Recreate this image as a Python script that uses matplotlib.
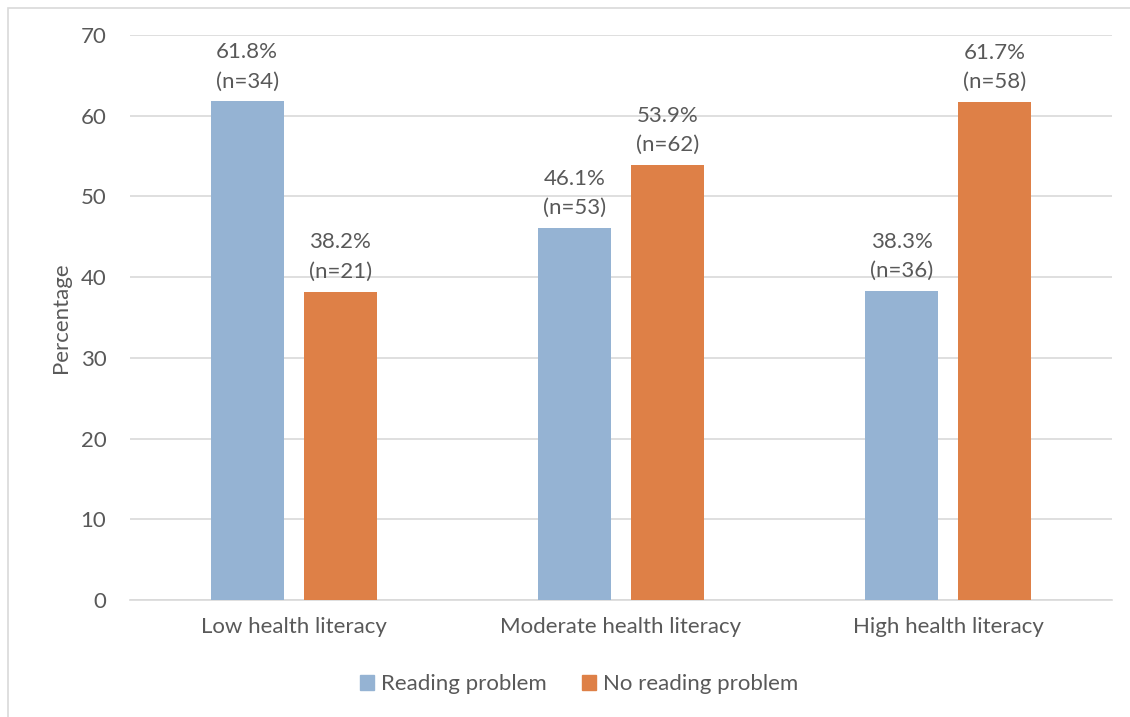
import numpy as np
import matplotlib.pyplot as plt
from matplotlib.patches import Rectangle, Patch

categorias = ['Low health literacy', 'Moderate health literacy', 'High health literacy']
com_problema = [61.8, 46.1, 38.3]
sem_problema = [38.2, 53.9, 61.7]
n_com = [34, 53, 36]
n_sem = [21, 62, 58]

azul = '#95B3D3'
laranja = '#DE8047'
cinza = '#595959'
fs = 16

plt.rcParams['font.family'] = ['Lato', 'DejaVu Sans']

fig = plt.figure(figsize=(11.3, 7.17), dpi=100)
ax = fig.add_axes([130/1130, 1 - 600/717, 982/1130, 565/717])

# moldura clara em volta do grafico
fig.patches.append(Rectangle((8/1130, -0.01), 1.0, 1 - 8/717 + 0.01, transform=fig.transFigure,
                             fill=False, edgecolor='#D9D9D9', linewidth=1.2))

pos = np.arange(len(categorias))
larg = 0.223
desl = 0.142
b1 = ax.bar(pos - desl, com_problema, larg, color=azul, zorder=3)
b2 = ax.bar(pos + desl, sem_problema, larg, color=laranja, zorder=3)

for barras, vals, ns in ((b1, com_problema, n_com), (b2, sem_problema, n_sem)):
    for b, v, n in zip(barras, vals, ns):
        ax.annotate('%.1f%%\n(n=%d)' % (v, n), (b.get_x() + b.get_width()/2, v),
                    xytext=(0, 7), textcoords='offset points', ha='center', va='bottom',
                    fontsize=fs, color=cinza, linespacing=1.6)

ax.set_xlim(-0.5, 2.5)
ax.set_ylim(0, 70)
ax.set_yticks(range(0, 71, 10))
ax.set_xticks(pos)
ax.set_xticklabels(categorias)
ax.yaxis.grid(True, color='#D9D9D9', linewidth=1.2, zorder=0)
ax.tick_params(length=0, labelsize=fs, labelcolor=cinza)
ax.tick_params(axis='x', pad=12)
ax.tick_params(axis='y', pad=17)
for s in ['top', 'right', 'left']:
    ax.spines[s].set_visible(False)
ax.spines['bottom'].set_color('#D9D9D9')
ax.spines['bottom'].set_linewidth(1.2)
ax.set_ylabel('Percentage', fontsize=fs, color=cinza, labelpad=7)

fig.legend(handles=[Patch(color=azul, label='Reading problem'),
                    Patch(color=laranja, label='No reading problem')],
           loc='center', bbox_to_anchor=(579/1130, 1 - 684/717), ncol=2, frameon=False,
           fontsize=fs, labelcolor=cinza, handlelength=0.65, handleheight=0.65,
           handletextpad=0.3, columnspacing=1.6)

plt.savefig('out.png', dpi=100)
